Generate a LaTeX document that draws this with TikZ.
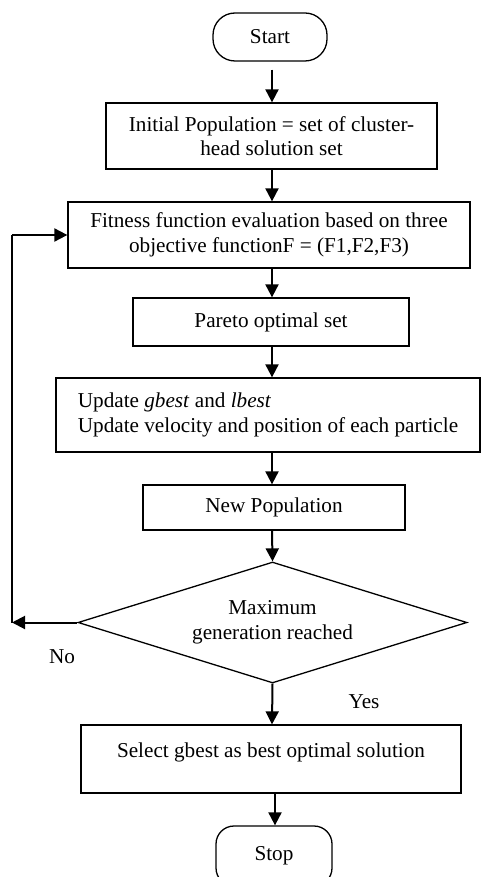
\documentclass[tikz,border=0pt]{standalone}
\usepackage{fontspec}
\setmainfont{Liberation Serif}
\usetikzlibrary{shapes.geometric,arrows.meta}
\begin{document}
\begin{tikzpicture}[x=1pt,y=-1pt,
  font=\fontsize{21.2}{24.5}\selectfont,
  box/.style={draw, line width=1.3pt, inner sep=0pt, align=center},
  arr/.style={line width=2pt, -{Triangle[width=13pt,length=13pt]}},
  plain/.style={line width=2pt},
  lbl/.style={inner sep=0pt}]
\useasboundingbox (0,0) rectangle (481,877);
\clip (0,0) rectangle (481,877);
\fill[white] (0,0) rectangle (481,877);

\node[box, rounded corners=22pt, minimum width=114pt, minimum height=48pt] (start) at (270,37) {Start};
\node[box, minimum width=331pt, minimum height=66pt] (init) at (271.5,136) {Initial Population = set of cluster-\\head solution set};
\node[box, minimum width=402pt, minimum height=66pt] (fit) at (269,235) {Fitness function evaluation based on three\\objective functionF = (F1,F2,F3)};
\node[box, minimum width=276pt, minimum height=48pt] (par) at (271,322) {Pareto optimal set};
\node[box, align=left, inner xsep=21pt, minimum width=424pt, minimum height=74pt] (upd) at (268,415) {Update \textit{gbest} and \textit{lbest}\\Update velocity and position of each particle};
\node[box, minimum width=262pt, minimum height=45pt] (newp) at (274,507.5) {New Population};
\node[draw, diamond, shape aspect=3.2, line width=1.3pt, minimum width=389pt, minimum height=121pt, inner sep=0pt, align=center] (dia) at (272.5,622.5) {Maximum\\generation reached};
\node[box, minimum width=380pt, minimum height=68pt] (sel) at (271,759) {};
\node[lbl, anchor=base] (seltxt) at (271,757) {Select gbest as best optimal solution};
\node[box, rounded corners=18pt, minimum width=116pt, minimum height=60pt] (stop) at (274,856) {Stop};

\node[lbl] (no) at (62,657) {No};
\node[lbl] (yes) at (364,702) {Yes};

\coordinate (ax) at (272,0);
\coordinate (bx) at (275,0);
\coordinate (lx) at (12,0);
\coordinate (lb) at (dia.west -| lx);
\coordinate (lt) at (fit.west -| lx);

\draw[arr, shorten <=8pt] (ax |- start.south) -- (ax |- init.north);
\draw[arr] (ax |- init.south) -- (ax |- fit.north);
\draw[arr] (ax |- fit.south) -- (ax |- par.north);
\draw[arr] (ax |- par.south) -- (ax |- upd.north);
\draw[arr] (ax |- upd.south) -- (ax |- newp.north);
\draw[arr] (ax |- newp.south) -- (dia.north);
\draw[arr] (dia.south) -- (ax |- sel.north);
\draw[arr] (bx |- sel.south) -- (bx |- stop.north);

\draw[arr] (dia.west) -- (lb);
\draw[plain] (lb) -- (lt);
\draw[arr] (lt) -- (fit.west);
\end{tikzpicture}
\end{document}
